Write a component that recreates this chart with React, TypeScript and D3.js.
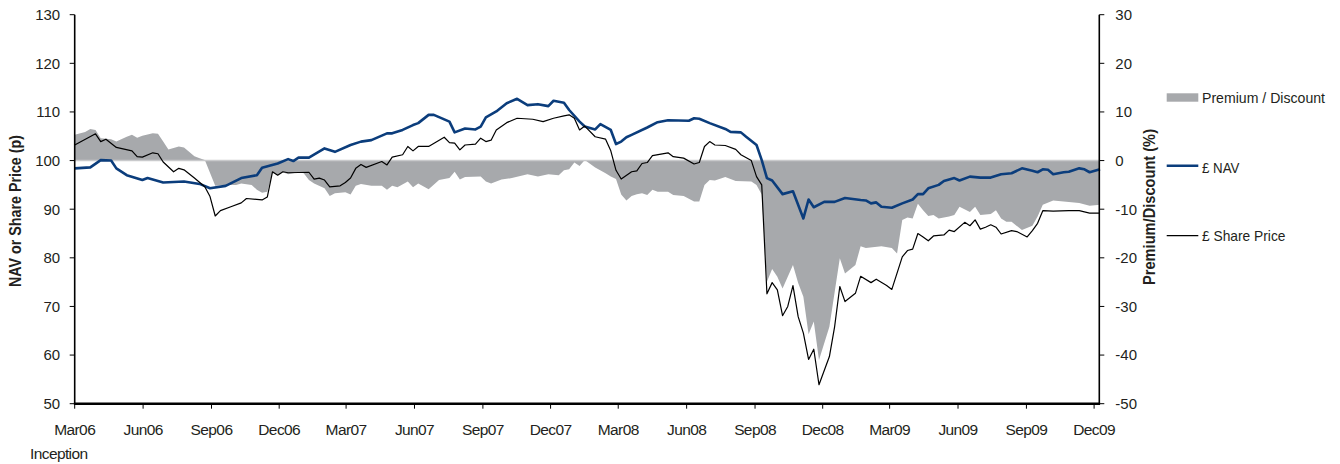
import React from 'react';
import * as d3 from 'd3';

// ---------- DATA ----------
const inceptionDate = '2006-03-01';
const endDate = '2009-12-08';

const xTickDates = ['2006-03-01','2006-06-01','2006-09-01','2006-12-01','2007-03-01','2007-06-01','2007-09-01','2007-12-01','2008-03-01','2008-06-01','2008-09-01','2008-12-01','2009-03-01','2009-06-01','2009-09-01','2009-12-01'];
const xTickLabels = ['Mar06','Jun06','Sep06','Dec06','Mar07','Jun07','Sep07','Dec07','Mar08','Jun08','Sep08','Dec08','Mar09','Jun09','Sep09','Dec09'];
const leftTicks = [50, 60, 70, 80, 90, 100, 110, 120, 130];
const rightTicks = [-50, -40, -30, -20, -10, 0, 10, 20, 30];

// weeks since inception
const navWeeks = [0,3,5,7,8,10,13,14,17,21,24,26,29,32,35,36,39,41,42,43,45,48,50,53,55,57,60,61,63,65,66,68,69,72,73,75,77,78,79,81,83,85,87,89,91,92,94,95,97,98,100,101,103,104,105,106,107,110,112,114,118,119,120,122,125,126,128,129,131,132,133,134,136,138,140,141,142,144,146,148,151,152,153,154,155,157,159,161,162,163,164,166,167,169,170,172,174,176,178,180,182,184,185,186,187,188,190,191,193,194,195,197];
const navValues = [98.4,98.6,100.1,100.0,98.4,97.0,96.0,96.4,95.5,95.7,95.2,94.3,94.8,96.4,97.0,98.5,99.4,100.3,99.9,100.6,100.6,102.5,101.8,103.2,103.9,104.2,105.6,105.6,106.3,107.3,107.7,109.4,109.4,108.0,105.8,106.6,106.4,107.0,108.9,110.1,111.8,112.7,111.4,111.6,111.2,112.3,111.9,110.4,108.0,107.0,106.4,107.5,106.3,103.4,103.9,104.8,105.3,106.8,107.9,108.3,108.2,108.7,108.6,107.7,106.5,105.9,105.8,104.9,103.2,100.1,96.4,95.9,93.1,93.7,88.1,92.0,90.4,91.5,91.5,92.3,91.9,91.8,91.2,91.4,90.5,90.3,91.2,92.0,93.1,93.1,94.3,95.0,95.8,96.4,95.9,96.7,96.5,96.5,97.2,97.4,98.4,97.9,97.6,98.2,98.1,97.2,97.6,97.7,98.4,98.2,97.6,98.2];

const shareWeeks = [0,4,5,6,8,11,12,13,15,16,17,19,20,21,23,25,26,27,28,30,32,33,36,37,38,39,40,41,45,46,47,48,49,51,52,53,54,55,56,59,60,61,63,64,65,66,68,71,72,73,74,75,77,78,79,80,81,83,85,88,90,92,94,95,96,97,98,100,102,103,104,105,107,108,109,110,111,114,115,117,119,120,121,122,123,125,127,128,130,131,132,133,134,135,136,137,138,139,140,141,142,143,145,146,147,148,150,151,153,154,156,157,159,160,161,162,163,164,165,167,168,169,171,172,173,174,175,176,177,178,180,181,183,184,185,186,188,191,193,195,197];
const shareValues = [103.2,105.5,103.9,104.4,102.7,102.0,100.8,100.7,101.6,101.4,99.7,97.7,98.4,98.1,96.4,94.6,92.6,88.6,89.7,90.5,91.3,92.2,91.9,92.5,97.7,97.0,97.7,97.5,97.6,96.2,96.4,96.0,94.6,94.8,95.5,96.4,98.4,99.2,98.6,99.8,99.1,100.7,101.2,102.9,102.0,102.9,102.9,104.8,103.7,103.6,102.2,103.2,103.4,104.6,103.9,104.2,106.3,107.8,108.7,108.5,108.0,108.7,109.2,109.4,108.7,106.3,107.1,104.9,104.4,102.0,98.0,96.2,97.7,97.9,99.4,99.6,101.0,101.6,100.8,100.5,99.3,99.6,102.9,103.9,103.2,103.1,102.3,101.2,100.0,96.7,95.0,72.6,74.9,73.4,68.1,70.0,74.3,67.9,64.5,59.1,61.2,53.9,59.7,65.8,74.1,71.0,72.7,76.2,74.9,75.6,74.3,73.5,80.2,81.5,81.8,85.0,84.3,83.5,84.5,84.7,85.7,85.4,87.3,86.6,87.8,85.9,86.3,86.8,86.3,84.9,85.6,85.4,84.3,85.6,87.1,89.7,89.6,89.7,89.7,89.2,89.2];

const premiumWeeks = [0,2,3,4,5,7,8,10,11,12,13,15,16,17,18,20,21,23,24,25,27,29,31,32,34,35,36,37,38,39,40,41,43,44,45,46,48,49,50,52,53,54,55,57,59,60,61,62,64,65,66,68,70,72,73,74,75,78,79,80,82,84,87,89,91,93,94,95,96,97,98,100,102,103,104,105,106,107,108,109,110,111,112,114,115,117,119,120,121,122,123,125,127,130,131,132,133,134,135,136,137,138,139,140,141,142,143,145,147,148,150,151,152,155,157,158,159,160,161,162,163,164,165,166,168,169,170,172,173,174,176,177,178,179,180,182,184,185,186,188,191,193,195,197];
const premiumValues = [5.3,5.9,6.5,6.3,4.6,4.4,3.9,4.9,5.3,4.7,5.1,5.6,5.5,3.9,2.3,2.9,2.7,0.9,0.5,0.1,-5.2,-5.0,-5.0,-4.7,-5.0,-6.0,-6.6,-6.4,-2.5,-3.0,-2.4,-2.8,-2.4,-2.6,-4.0,-4.7,-5.7,-7.3,-6.7,-6.5,-7.0,-5.2,-4.8,-5.2,-5.2,-6.0,-5.2,-5.5,-4.3,-5.5,-4.7,-5.9,-4.0,-3.6,-2.3,-3.9,-3.4,-3.3,-4.3,-4.7,-3.9,-3.6,-2.8,-3.3,-2.8,-3.0,-2.0,-1.8,-0.4,-1.1,0.1,-1.4,-2.6,-3.3,-3.8,-7.0,-8.2,-7.3,-6.9,-6.7,-7.1,-6.0,-6.4,-6.4,-7.1,-7.3,-8.4,-8.4,-5.0,-4.0,-4.1,-3.4,-4.2,-4.3,-5.0,-7.0,-24.9,-22.3,-23.9,-26.3,-23.9,-21.5,-25.2,-28.0,-35.7,-33.1,-41.0,-34.2,-20.1,-23.2,-21.5,-17.6,-18.0,-17.6,-18.0,-19.1,-12.2,-11.7,-11.9,-8.9,-10.2,-11.4,-11.2,-11.9,-11.5,-11.2,-9.5,-10.6,-9.5,-11.2,-11.0,-10.2,-11.9,-12.6,-12.6,-14.3,-13.4,-11.5,-9.1,-8.2,-8.5,-8.7,-9.3,-9.1];

const legendLabels = ['Premium / Discount', '£ NAV', '£ Share Price'];
const leftTitle = 'NAV or Share Price (p)';
const rightTitle = 'Premium/Discount (%)';
const inceptionLabel = 'Inception';

// ---------- STYLE ----------
const W = 1340, H = 464;
const plot = { left: 74.7, right: 1099.3, top: 14.7, bottom: 403.7 };
const NAV_COLOR = '#0b3d7c';
const GREY = '#a7a9ac';
const TEXT = '#231f20';
const font = "'Liberation Sans', Arial, sans-serif";
const legendWidths = [123, 37.5, 83.5];

type Pt = { d: Date; v: number };

export default function App() {
  const parse = d3.utcParse('%Y-%m-%d');
  const start = parse(inceptionDate) as Date;
  const toSeries = (weeks: number[], vals: number[]): Pt[] => {
    const n = Math.min(weeks.length, vals.length);
    const out: Pt[] = [];
    for (let i = 0; i < n; i++) out.push({ d: d3.utcDay.offset(start, weeks[i] * 7), v: vals[i] });
    return out;
  };
  const nav = toSeries(navWeeks, navValues);
  const share = toSeries(shareWeeks, shareValues);
  const prem = toSeries(premiumWeeks, premiumValues);

  const x = d3.scaleTime().domain([start, parse(endDate) as Date]).range([plot.left, plot.right]);
  const yL = d3.scaleLinear().domain([50, 130]).range([plot.bottom, plot.top]);
  const yR = d3.scaleLinear().domain([-50, 30]).range([plot.bottom, plot.top]);

  const area = d3.area<Pt>().x(p => x(p.d)).y0(yR(0)).y1(p => yR(p.v));
  const line = d3.line<Pt>().x(p => x(p.d)).y(p => yL(p.v));

  const legX0 = 1166.7, legX1 = 1198.3, legTX = 1202;

  return (
    <svg width={W} height={H} style={{ position: 'absolute', left: 0, top: 0, display: 'block', background: '#fff' }}>
      <rect x={0} y={0} width={W} height={H} fill="#fff" />
      {/* premium area */}
      <path d={area(prem) || ''} fill={GREY} stroke="none" />
      <line x1={plot.left} x2={plot.right} y1={yR(0)} y2={yR(0)} stroke="#c9cacc" strokeWidth={1.5} />
      {/* lines */}
      <path d={line(nav) || ''} fill="none" stroke={NAV_COLOR} strokeWidth={2.6} strokeLinejoin="round" />
      <path d={line(share) || ''} fill="none" stroke="#000" strokeWidth={1.2} strokeLinejoin="round" />

      {/* left axis */}
      <line x1={plot.left} x2={plot.left} y1={plot.top} y2={plot.bottom} stroke="#000" strokeWidth={1.6} />
      {leftTicks.map(t => (
        <g key={'l' + t}>
          <line x1={plot.left - 5} x2={plot.left} y1={yL(t)} y2={yL(t)} stroke="#000" strokeWidth={1} />
          <text x={plot.left - 14.5} y={yL(t)} dy="0.36em" textAnchor="end" fontFamily={font} fontSize={15} fill={TEXT}>{t}</text>
        </g>
      ))}
      {/* right axis */}
      <line x1={plot.right} x2={plot.right} y1={plot.top} y2={plot.bottom} stroke="#000" strokeWidth={1.6} />
      {rightTicks.map(t => (
        <g key={'r' + t}>
          <line x1={plot.right} x2={plot.right + 5} y1={yR(t)} y2={yR(t)} stroke="#000" strokeWidth={1} />
          <text x={plot.right + 16} y={yR(t)} dy="0.36em" textAnchor="start" fontFamily={font} fontSize={15} fill={TEXT}>{t}</text>
        </g>
      ))}
      {/* bottom axis */}
      <line x1={plot.left - 0.8} x2={plot.right + 0.8} y1={plot.bottom} y2={plot.bottom} stroke="#000" strokeWidth={2.6} />
      {xTickDates.map((ds, i) => {
        const px = x(parse(ds) as Date);
        return (
          <g key={ds}>
            <line x1={px} x2={px} y1={plot.bottom} y2={plot.bottom + 5} stroke="#000" strokeWidth={1} />
            <text x={px} y={435} textAnchor="middle" fontFamily={font} fontSize={15.5} letterSpacing={-0.6} fill={TEXT}>{xTickLabels[i]}</text>
          </g>
        );
      })}
      <text x={30} y={459} fontFamily={font} fontSize={15.5} letterSpacing={-0.6} fill={TEXT}>{inceptionLabel}</text>

      {/* axis titles */}
      <text transform={`translate(21,211) rotate(-90)`} textAnchor="middle" fontFamily={font} fontSize={17} fontWeight="bold" textLength={152} lengthAdjust="spacingAndGlyphs" fill={TEXT}>{leftTitle}</text>
      <text transform={`translate(1155,207) rotate(-90)`} textAnchor="middle" fontFamily={font} fontSize={17} fontWeight="bold" textLength={156} lengthAdjust="spacingAndGlyphs" fill={TEXT}>{rightTitle}</text>

      {/* legend */}
      <rect x={legX0} y={93.3} width={legX1 - legX0} height={8.4} fill={GREY} />
      <text x={legTX} y={103.3} fontFamily={font} fontSize={15} textLength={legendWidths[0]} lengthAdjust="spacingAndGlyphs" fill={TEXT}>{legendLabels[0]}</text>
      <line x1={legX0} x2={legX1} y1={165.7} y2={165.7} stroke={NAV_COLOR} strokeWidth={2.6} />
      <text x={legTX} y={172.8} fontFamily={font} fontSize={15} textLength={legendWidths[1]} lengthAdjust="spacingAndGlyphs" fill={TEXT}>{legendLabels[1]}</text>
      <line x1={legX0} x2={legX1} y1={235.7} y2={235.7} stroke="#000" strokeWidth={1.2} />
      <text x={legTX} y={241.3} fontFamily={font} fontSize={15} textLength={legendWidths[2]} lengthAdjust="spacingAndGlyphs" fill={TEXT}>{legendLabels[2]}</text>
    </svg>
  );
}
